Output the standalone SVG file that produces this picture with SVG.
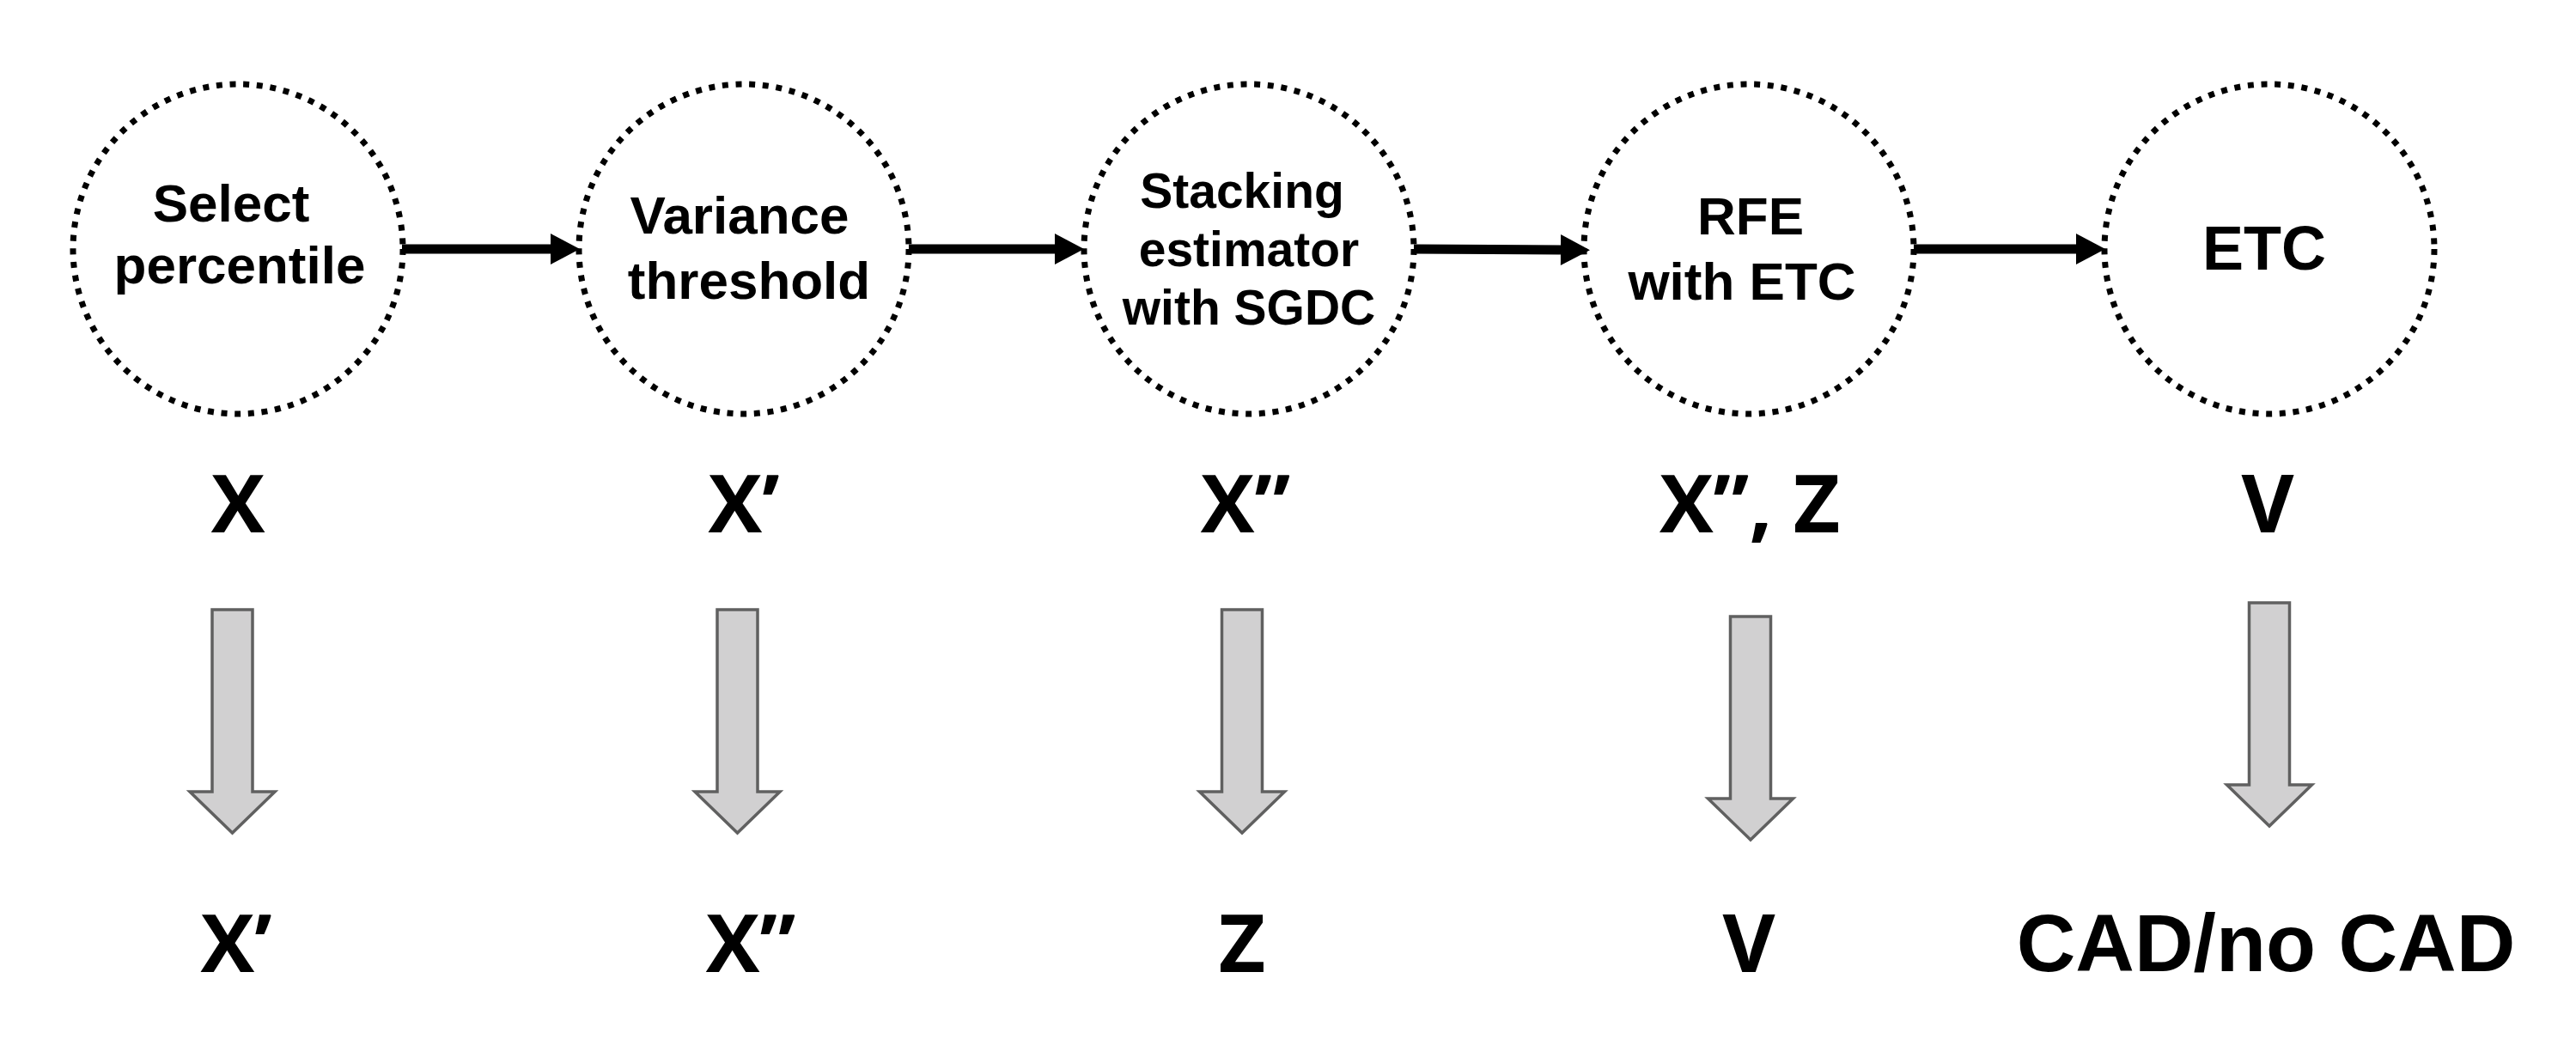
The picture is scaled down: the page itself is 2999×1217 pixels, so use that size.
<svg xmlns="http://www.w3.org/2000/svg" xmlns:xlink="http://www.w3.org/1999/xlink" width="2999" height="1217" viewBox="0 0 2999 1217">
  <defs>
    <style>
      .node { fill: none; stroke: #000; stroke-width: 7; stroke-dasharray: 7 8.7; }
      .ntext { font-family: "Liberation Sans", Arial, Helvetica, sans-serif; font-weight: bold; fill: #000; text-anchor: middle; }
      .lbl { font-family: "Open Sans", "Liberation Sans", sans-serif; font-weight: 700; font-size: 94px; fill: #000; text-anchor: middle; }
      .out { font-family: "Liberation Sans", Arial, Helvetica, sans-serif; font-weight: bold; font-size: 95px; fill: #000; text-anchor: middle; }
      .flow { stroke: #000; stroke-width: 11; fill: none; }
      .darrow { fill: #d1d0d1; stroke: #606060; stroke-width: 3.5; stroke-linejoin: miter; }
    </style>
    <marker id="head" markerUnits="userSpaceOnUse" markerWidth="36" markerHeight="38" refX="0" refY="18" orient="auto" overflow="visible">
      <path d="M0,0 L34,18 L0,36 Z" fill="#000"/>
    </marker>
    <path id="darrowShape" d="M-23.5,0 H23.5 V212 H49.5 L0,260 L-49.5,212 H-23.5 Z"/>
  </defs>

  <rect x="0" y="0" width="2999" height="1217" fill="#fff"/>

  <g id="connectors">
    <line class="flow" x1="468" y1="290" x2="641" y2="290" marker-end="url(#head)"/>
    <line class="flow" x1="1058" y1="290" x2="1228" y2="290" marker-end="url(#head)"/>
    <line class="flow" x1="1646" y1="290" x2="1817" y2="291" marker-end="url(#head)"/>
    <line class="flow" x1="2228" y1="290" x2="2417" y2="290" marker-end="url(#head)"/>
  </g>

  <g id="node-select-percentile">
    <circle class="node" cx="277" cy="290" r="192"/>
    <text class="ntext" font-size="62" x="269" y="258">Select</text>
    <text class="ntext" font-size="62" x="279" y="330">percentile</text>
  </g>

  <g id="node-variance-threshold">
    <circle class="node" cx="866" cy="290" r="192"/>
    <text class="ntext" font-size="62" x="861" y="272">Variance</text>
    <text class="ntext" font-size="62" x="872" y="348">threshold</text>
  </g>

  <g id="node-stacking">
    <circle class="node" cx="1454" cy="290" r="192"/>
    <text class="ntext" font-size="57" x="1446" y="242">Stacking</text>
    <text class="ntext" font-size="57" x="1454" y="310">estimator</text>
    <text class="ntext" font-size="57" x="1454" y="378">with SGDC</text>
  </g>

  <g id="node-rfe">
    <circle class="node" cx="2036" cy="290" r="192"/>
    <text class="ntext" font-size="62" x="2038" y="273">RFE</text>
    <text class="ntext" font-size="62" x="2028" y="349">with ETC</text>
  </g>

  <g id="node-etc">
    <circle class="node" cx="2642" cy="290" r="192"/>
    <text class="ntext" font-size="72" x="2636" y="314">ETC</text>
  </g>

  <g id="inputs">
    <text class="lbl" x="277" y="620">X</text>
    <text class="lbl" x="866" y="620">X’</text>
    <text class="lbl" x="1450" y="620">X”</text>
    <text class="lbl" x="2037" y="620">X”, Z</text>
    <text class="lbl" x="2640" y="620">V</text>
  </g>

  <g id="down-arrows" class="darrow">
    <use xlink:href="#darrowShape" x="270.5" y="710"/>
    <use xlink:href="#darrowShape" x="858.5" y="710"/>
    <use xlink:href="#darrowShape" x="1446" y="710"/>
    <use xlink:href="#darrowShape" x="2038" y="718"/>
    <use xlink:href="#darrowShape" x="2642" y="702"/>
  </g>

  <g id="outputs">
    <text class="lbl" x="275" y="1132">X’</text>
    <text class="lbl" x="874" y="1132">X”</text>
    <text class="lbl" x="1446" y="1132">Z</text>
    <text class="lbl" x="2036" y="1132">V</text>
    <text class="out" x="2638" y="1131">CAD/no CAD</text>
  </g>
</svg>
